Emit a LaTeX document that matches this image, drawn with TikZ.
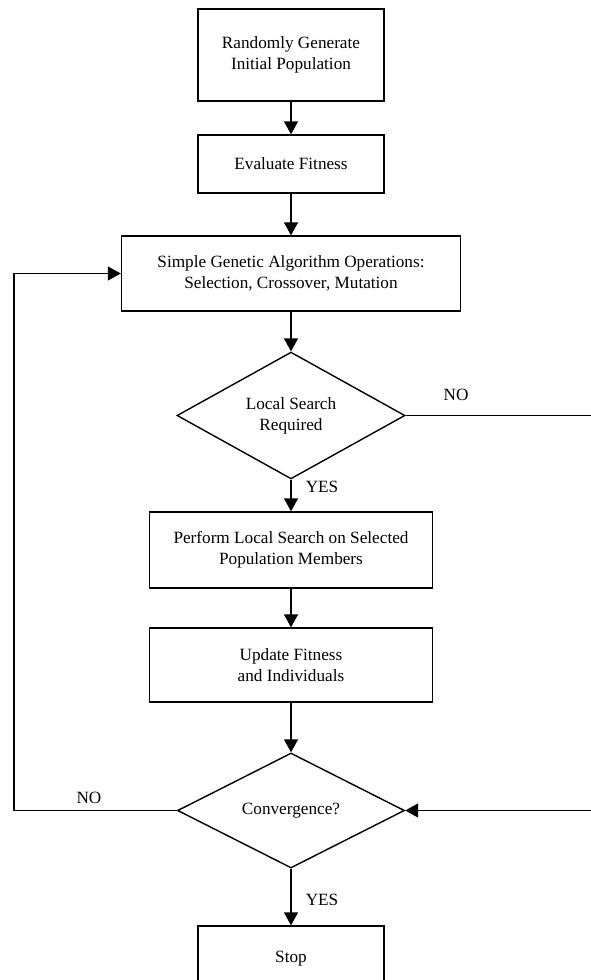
\documentclass[tikz,border=0pt]{standalone}
\usepackage{fontspec}
\setmainfont{Liberation Serif}
\usetikzlibrary{arrows.meta,positioning,shapes.geometric}
\tikzset{
  procbox/.style={draw, line width=1.4pt, align=center, inner sep=2pt},
  decision/.style={diamond, draw, line width=1.4pt, align=center, inner sep=0pt},
  flow/.style={-{Triangle[width=14pt,length=13pt]}, line width=1.4pt},
  answer/.style={inner sep=0pt}
}

\begin{document}
\begin{tikzpicture}[x=1pt, y=-1pt, font=\fontsize{17.2}{21}\selectfont]
        \useasboundingbox (0,0) rectangle (591,980);
        \clip (0,0) rectangle (591,980);

        % Main column
        \node[procbox, minimum width=186pt, minimum height=92pt] (init) at (291,55) {Randomly Generate\\Initial Population};
        \node[procbox, minimum width=186pt, minimum height=58pt] (eval) at (291,164) {Evaluate Fitness};
        \node[procbox, minimum width=339pt, minimum height=75pt] (sga) at (291,273.5) {Simple Genetic Algorithm Operations:\\Selection, Crossover, Mutation};
        \node[decision, minimum width=228pt, minimum height=125pt] (ls) at (291,415.5) {Local Search\\Required};
        \node[procbox, minimum width=283pt, minimum height=76pt] (perf) at (291,550) {Perform Local Search on Selected\\Population Members};
        \node[procbox, minimum width=283pt, minimum height=74pt] (upd) at (291,665) {Update Fitness\\and Individuals};
        \node[decision, minimum width=227pt, minimum height=115pt] (conv) at (291,810.5) {Convergence?};
        \node[procbox, minimum width=186pt, minimum height=66pt] (stop) at (291,959) {Stop};

        % Branch labels
        \node[answer] (lsno) at (456,395) {NO};
        \node[answer] (lsyes) at (322,487) {YES};
        \node[answer] (convno) at (89,798) {NO};
        \node[answer] (convyes) at (322,900) {YES};

        % Loop rails
        \coordinate (leftrail) at (14,0);
        \coordinate (rightrail) at (610,0);

        % Connectors
        \draw[flow] (init) -- (eval);
        \draw[flow] (eval) -- (sga);
        \draw[flow] (sga) -- (ls);
        \draw[flow] (ls) -- (perf);
        \draw[flow] (perf) -- (upd);
        \draw[flow] (upd) -- (conv);
        \draw[flow] (conv) -- (stop);
        \draw[flow] (conv.west) -- (conv.west -| leftrail) |- (sga.west);
        \draw[flow] (ls.east) -- (ls.east -| rightrail) |- (conv.east);
    \end{tikzpicture}
\end{document}
